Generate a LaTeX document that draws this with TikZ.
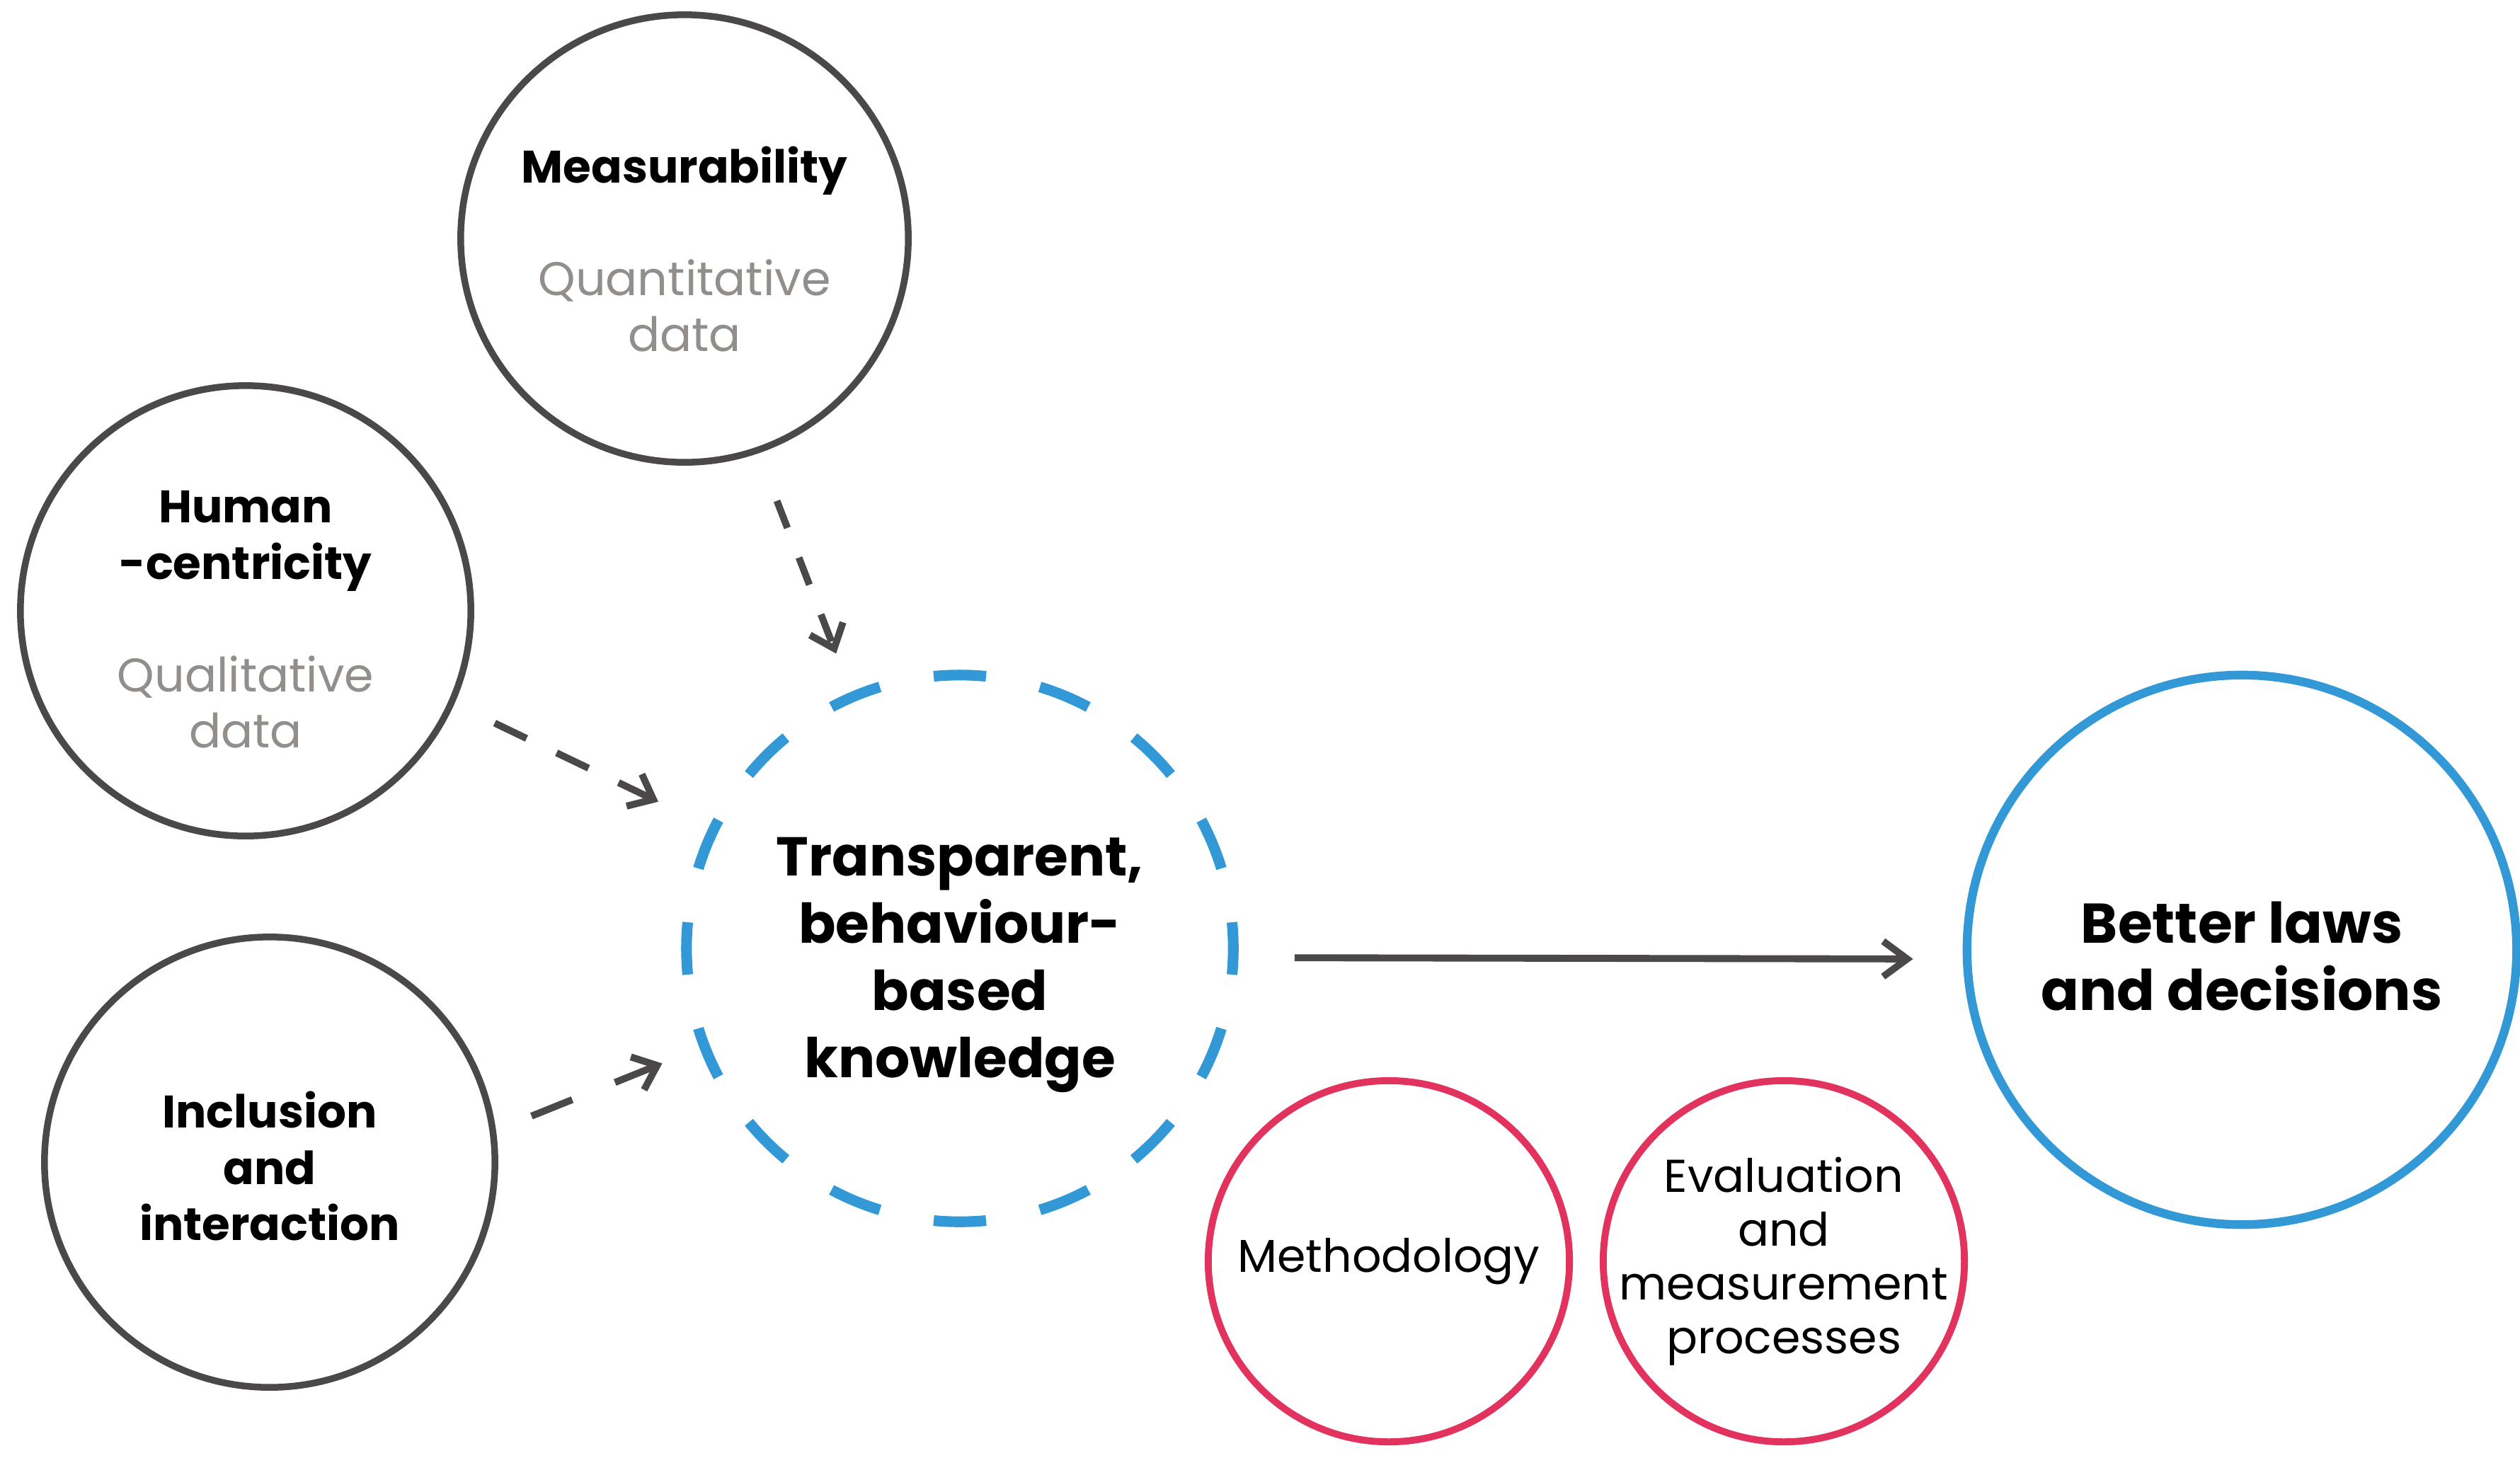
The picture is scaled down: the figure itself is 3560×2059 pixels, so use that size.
\documentclass[tikz,border=0pt]{standalone}
\usepackage{fontspec}
\setmainfont{Poppins}
\usetikzlibrary{arrows.meta}
\definecolor{darkline}{RGB}{74,72,73}
\definecolor{softgray}{RGB}{146,142,139}
\definecolor{lawblue}{RGB}{51,153,214}
\definecolor{methred}{RGB}{226,50,94}
\newcommand{\graytext}[1]{{\mdseries\fontsize{19}{22.6}\selectfont\color{softgray}#1}}
\newcommand{\topgap}[1]{\rule{0pt}{\dimexpr\fontcharht\font`l+#1\relax}}
\begin{document}
\begin{tikzpicture}[x=0.01cm,y=-0.01cm,
  pillar/.style={circle,draw=darkline,line width=2.7pt,minimum size=6.36cm,align=center,
    font=\bfseries\fontsize{18.3}{22.6}\selectfont},
  core/.style={circle,draw=lawblue,line width=4.3pt,minimum size=7.72cm,align=center,
    dash pattern=on 0.74cm off 0.776cm,dash phase=0.37cm,
    font=\bfseries\fontsize{22}{27}\selectfont},
  goal/.style={circle,draw=lawblue,line width=3.5pt,minimum size=7.76cm,align=center,
    font=\bfseries\fontsize{22.5}{27}\selectfont},
  support/.style={circle,draw=methred,line width=2.8pt,minimum size=5.1cm,align=center,
    inner sep=-4pt,font=\fontsize{18.5}{21.6}\selectfont},
  feeds/.style={draw=darkline,line width=2.8pt,dash pattern=on 0.45cm off 0.45cm,
    -{Straight Barb[length=0.3cm,width=0.5cm]}},
  leads/.style={draw=darkline,line width=2.8pt,-{Straight Barb[length=0.34cm,width=0.5cm]}}]
\useasboundingbox (0,0) rectangle (3560,2059);

\node[pillar,minimum size=6.32cm] (meas) at (967,337)
  {\topgap{0.36cm}Measurability\\[22.6pt] \graytext{Quantitative}\\ \graytext{data}};
\node[pillar] (human) at (347,863)
  {\topgap{0.25cm}Human\\-centricity\\[22.6pt] \graytext{Qualitative}\\ \graytext{data}};
\node[pillar] (incl) at (381,1642) {\topgap{0.18cm}Inclusion\\and\\interaction};

\node[core] (central) at (1356,1340) {\topgap{0.46cm}Transparent,\\behaviour-\\based\\knowledge};
\node[goal] (better) at (3167,1342) {\topgap{0.2cm}Better laws\\and decisions};

\node[support] (meth) at (1962,1782) {Methodology};
\node[support] (evalm) at (2520,1782) {Evaluation\\and\\measurement\\processes};

\draw[feeds,dash pattern=on 0.41cm off 0.45cm,shorten <=0.72cm,shorten >=0.58cm] (meas.-71) -- (central.113);
\draw[feeds,dash pattern=on 0.5cm off 0.47cm,shorten <=0.63cm,shorten >=0.8cm] (human.-24) -- (central.154);
\draw[feeds,dash pattern=on 0.62cm off 0.65cm,shorten <=0.54cm,shorten >=0.57cm] (incl.8) -- (central.201);
\draw[leads,shorten <=0.79cm,shorten >=0.7cm] ([yshift=-0.13cm]central.east) -- ([yshift=-0.13cm]better.west);
\end{tikzpicture}
\end{document}
